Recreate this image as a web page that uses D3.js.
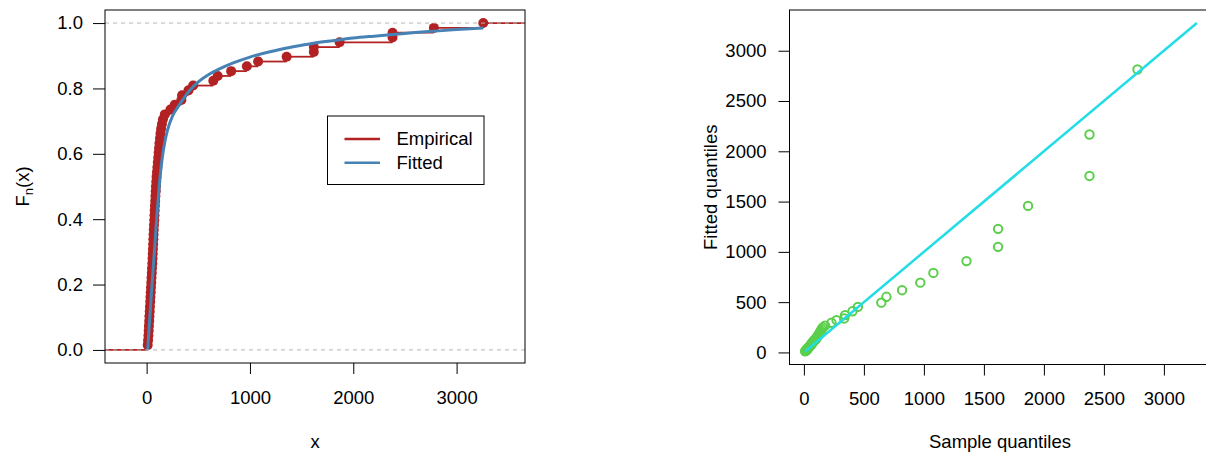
<!DOCTYPE html>
<html>
<head>
<meta charset="utf-8">
<script src="https://cdn.jsdelivr.net/npm/d3@7"></script>
<style>
  body { margin: 0; background: #fff; }
  svg { display: block; }
  text { font-family: "Liberation Sans", Arial, Helvetica, sans-serif; fill: #000; }
</style>
</head>
<body>
<svg id="chart" width="1206" height="455"></svg>
<script>
// Sorted observations (68 values)
const sample = [
  10, 14, 17, 20, 22, 25, 27, 30, 32, 35,
  37, 40, 42, 45, 47, 50, 52, 55, 57, 59,
  61, 63, 65, 67, 69, 71, 74, 76, 78, 80,
  83, 85, 88, 90, 93, 96, 100, 104, 108, 112,
  116, 120, 124, 129, 134, 140, 148, 158, 176, 230,
  272, 336, 343, 405, 450, 645, 688, 818, 970, 1079,
  1355, 1618, 1618, 1868, 2380, 2380, 2780, 3258
];

// Quantiles of the fitted distribution paired with the first 67 observations
// (the one for the largest observation lies above the plotted range)
const fittedQuantiles = [
  12, 15, 19, 22, 25, 29, 32, 36, 39, 42,
  46, 49, 53, 56, 60, 63, 66, 70, 73, 77,
  80, 83, 87, 90, 94, 97, 100, 104, 107, 111,
  114, 118, 121, 124, 128, 131, 135, 139, 148, 157,
  164, 171, 180, 190, 202, 215, 230, 248, 266, 295,
  321, 338, 371, 410, 453, 495, 553, 619, 694, 791,
  908, 1050, 1229, 1457, 1755, 2167, 2813
];

// Fitted CDF evaluated along x
const fittedCdfX = [10, 30, 50, 70, 90, 110, 130, 150, 175, 200, 250, 300, 350, 420, 500,
  613, 700, 838, 1000, 1162, 1300, 1484, 1613, 1800, 2000, 2200, 2378, 2600, 2775, 3000, 3258];
const fittedCdfF = [0, 0.095, 0.19, 0.28, 0.37, 0.455, 0.53, 0.585, 0.635, 0.67, 0.715, 0.742, 0.766, 0.795, 0.82,
  0.845, 0.859, 0.878, 0.896, 0.91, 0.92, 0.931, 0.938, 0.946, 0.954, 0.96, 0.965, 0.971, 0.975, 0.98, 0.985];

const ecdfXLimits = [-403, 3662];
const ecdfYLimits = [-0.04, 1.04];
const qqLimits = [-120, 3405];
const ecdfXTicks = [0, 1000, 2000, 3000];
const ecdfYTicks = [0, 0.2, 0.4, 0.6, 0.8, 1.0];
const qqTicks = [0, 500, 1000, 1500, 2000, 2500, 3000];
const qqLineEnds = [10, 3275];
const legendLabels = ["Empirical", "Fitted"];

const RED = "#B22222", BLUE = "#4682B4", CYAN = "#22DCE6", GREEN = "#5BCF4B";
const FS = 18.5;

const svg = d3.select("#chart");

// ---------- Left panel: empirical vs fitted CDF ----------
const L = { left: 105, right: 525, top: 10, bottom: 363 };
const x1 = d3.scaleLinear().domain(ecdfXLimits).range([L.left, L.right]);
const y1 = d3.scaleLinear().domain(ecdfYLimits).range([L.bottom, L.top]);

svg.append("clipPath").attr("id", "clipL")
  .append("rect").attr("x", L.left).attr("y", L.top)
  .attr("width", L.right - L.left).attr("height", L.bottom - L.top);

const gL = svg.append("g").attr("clip-path", "url(#clipL)");
const n = sample.length;

// horizontal pieces of the step function
const steps = [[ecdfXLimits[0], sample[0], 0]];
sample.forEach((v, i) => {
  const next = i < n - 1 ? sample[i + 1] : ecdfXLimits[1];
  steps.push([v, next, (i + 1) / n]);
});
gL.selectAll("line.step").data(steps).join("line")
  .attr("x1", d => x1(d[0])).attr("x2", d => x1(d[1]))
  .attr("y1", d => y1(d[2])).attr("y2", d => y1(d[2]))
  .attr("stroke", RED).attr("stroke-width", 1.8);

gL.selectAll("circle.pt").data(sample).join("circle")
  .attr("cx", d => x1(d)).attr("cy", (d, i) => y1((i + 1) / n))
  .attr("r", 5).attr("fill", RED);

const cdfPts = fittedCdfX.map((v, i) => [v, fittedCdfF[i]]);
gL.append("path").datum(cdfPts)
  .attr("d", d3.line().x(d => x1(d[0])).y(d => y1(d[1])).curve(d3.curveMonotoneX))
  .attr("fill", "none").attr("stroke", BLUE).attr("stroke-width", 3);

gL.selectAll("line.ref").data([0, 1]).join("line")
  .attr("x1", L.left).attr("x2", L.right)
  .attr("y1", d => y1(d)).attr("y2", d => y1(d))
  .attr("stroke", "#b3b3b3").attr("stroke-width", 1).attr("stroke-dasharray", "4,4");

svg.append("rect").attr("x", L.left).attr("y", L.top)
  .attr("width", L.right - L.left).attr("height", L.bottom - L.top)
  .attr("fill", "none").attr("stroke", "#000").attr("stroke-width", 1);

const axL_x = svg.append("g").attr("transform", `translate(0,${L.bottom})`)
  .call(d3.axisBottom(x1).tickValues(ecdfXTicks).tickFormat(d3.format("d"))
    .tickSize(11).tickPadding(17).tickSizeOuter(0));
const axL_y = svg.append("g").attr("transform", `translate(${L.left},0)`)
  .call(d3.axisLeft(y1).tickValues(ecdfYTicks).tickFormat(d3.format(".1f"))
    .tickSize(12).tickPadding(10).tickSizeOuter(0));

// ---------- Right panel: Q-Q plot ----------
const R = { left: 789.5, right: 1212.5, top: 10, bottom: 364.5 };
const x2 = d3.scaleLinear().domain(qqLimits).range([R.left, R.right]);
const y2 = d3.scaleLinear().domain(qqLimits).range([R.bottom, R.top]);

svg.append("clipPath").attr("id", "clipR")
  .append("rect").attr("x", R.left).attr("y", R.top)
  .attr("width", R.right - R.left).attr("height", R.bottom - R.top);
const gR = svg.append("g").attr("clip-path", "url(#clipR)");

const qqPts = fittedQuantiles.map((q, i) => [sample[i], q]);
gR.selectAll("circle.qq").data(qqPts).join("circle")
  .attr("cx", d => x2(d[0])).attr("cy", d => y2(d[1]))
  .attr("r", 4.2).attr("fill", "none").attr("stroke", GREEN).attr("stroke-width", 2);

gR.append("line")
  .attr("x1", x2(qqLineEnds[0])).attr("y1", y2(qqLineEnds[0]))
  .attr("x2", x2(qqLineEnds[1])).attr("y2", y2(qqLineEnds[1]))
  .attr("stroke", CYAN).attr("stroke-width", 2.5);

svg.append("rect").attr("x", R.left).attr("y", R.top)
  .attr("width", R.right - R.left).attr("height", R.bottom - R.top)
  .attr("fill", "none").attr("stroke", "#000").attr("stroke-width", 1);

const axR_x = svg.append("g").attr("transform", `translate(0,${R.bottom})`)
  .call(d3.axisBottom(x2).tickValues(qqTicks).tickFormat(d3.format("d"))
    .tickSize(11).tickPadding(16).tickSizeOuter(0));
const axR_y = svg.append("g").attr("transform", `translate(${R.left},0)`)
  .call(d3.axisLeft(y2).tickValues(qqTicks).tickFormat(d3.format("d"))
    .tickSize(11).tickPadding(12).tickSizeOuter(0));

[axL_x, axL_y, axR_x, axR_y].forEach(g => {
  g.select(".domain").remove();
  g.selectAll(".tick line").attr("stroke", "#000");
  g.selectAll(".tick text").attr("font-size", FS).attr("fill", "#000")
    .style("font-family", '"Liberation Sans", Arial, sans-serif');
});

// ---------- Axis titles ----------
svg.append("text").attr("x", (L.left + L.right) / 2).attr("y", 448)
  .attr("text-anchor", "middle").attr("font-size", FS).text("x");
svg.append("text").attr("x", 1000).attr("y", 448)
  .attr("text-anchor", "middle").attr("font-size", FS).text("Sample quantiles");
svg.append("text").attr("transform", `translate(717,${(R.top + R.bottom) / 2}) rotate(-90)`)
  .attr("text-anchor", "middle").attr("font-size", FS).text("Fitted quantiles");

const fn = svg.append("text").attr("transform", `translate(29,${(L.top + L.bottom) / 2}) rotate(-90)`)
  .attr("text-anchor", "middle").attr("font-size", FS);
fn.append("tspan").text("F");
fn.append("tspan").attr("font-size", 13).attr("dy", 4).text("n");
fn.append("tspan").attr("dy", -4).text("(x)");

// ---------- Legend ----------
const lg = svg.append("g").attr("transform", "translate(327.5,116)");
lg.append("rect").attr("width", 156.5).attr("height", 68.5)
  .attr("fill", "#fff").attr("stroke", "#000").attr("stroke-width", 1);
const items = lg.selectAll("g.item").data(legendLabels).join("g")
  .attr("transform", (d, i) => `translate(0,${23 + i * 23.7})`);
items.append("line").attr("x1", 17).attr("x2", 52.5)
  .attr("stroke", (d, i) => i === 0 ? RED : BLUE).attr("stroke-width", 2.5);
items.append("text").attr("x", 69).attr("dy", "0.35em")
  .attr("font-size", FS).text(d => d);
</script>
</body>
</html>
